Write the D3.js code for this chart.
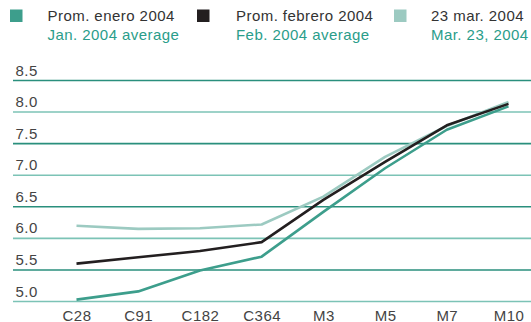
<!DOCTYPE html>
<html>
<head>
<meta charset="utf-8">
<script src="https://cdn.jsdelivr.net/npm/d3@7"></script>
<style>
  body { margin: 0; background: #fff; }
  svg { display: block; font-family: "Liberation Sans", Arial, sans-serif; }
</style>
</head>
<body>
<svg id="chart" width="531" height="322"></svg>
<script>
// データ
const categories = ['C28', 'C91', 'C182', 'C364', 'M3', 'M5', 'M7', 'M10'];
const janValues = [5.03, 5.16, 5.49, 5.71, 6.42, 7.11, 7.72, 8.09];
const febValues = [5.60, 5.70, 5.80, 5.94, 6.61, 7.21, 7.79, 8.13];
const marValues = [6.20, 6.15, 6.16, 6.22, 6.66, 7.29, 7.78, 8.16];
const yTicks = [5.0, 5.5, 6.0, 6.5, 7.0, 7.5, 8.0, 8.5];

const seriesList = [
    { es: 'Prom. enero 2004', en: 'Jan. 2004 average', values: janValues, color: '#3d9e8c' },
    { es: 'Prom. febrero 2004', en: 'Feb. 2004 average', values: febValues, color: '#231f20' },
    { es: '23 mar. 2004', en: 'Mar. 23, 2004', values: marValues, color: '#9ccac1' }
];

const svg = d3.select('#chart');
const fontSize = '15px';
const spacing = '0.45px';

const xScale = d3.scalePoint()
    .domain(categories)
    .range([76.5, 508.5]);

const yScale = d3.scaleLinear()
    .domain([5.0, 8.5])
    .range([301.5, 80.5]);

// グリッド線（濃淡交互）
const grid = svg.append('g').attr('class', 'grid');
yTicks.forEach((t, i) => {
    grid.append('line')
        .attr('x1', 13)
        .attr('x2', 531)
        .attr('y1', yScale(t))
        .attr('y2', yScale(t))
        .attr('stroke', i % 2 === 0 ? '#7cc3b6' : '#2a8f7d')
        .attr('stroke-width', 1.6);
    grid.append('text')
        .attr('x', 15.5)
        .attr('y', yScale(t) - 5)
        .style('font-size', fontSize)
        .style('letter-spacing', spacing)
        .style('fill', '#444')
        .text(d3.format('.1f')(t));
});

// X軸ラベル
const xAxis = d3.axisBottom(xScale).tickSize(0).tickPadding(0);
const xg = svg.append('g')
    .attr('transform', 'translate(0, 307)')
    .call(xAxis);
xg.select('.domain').remove();
xg.selectAll('text')
    .attr('dy', '0.9em')
    .style('font-size', fontSize)
    .style('letter-spacing', spacing)
    .style('font-family', '"Liberation Sans", Arial, sans-serif')
    .style('fill', '#444');

// ライン
const line = d3.line()
    .x((d, i) => xScale(categories[i]))
    .y(d => yScale(d));

[2, 0, 1].forEach(idx => {
    const s = seriesList[idx];
    svg.append('path')
        .datum(s.values)
        .attr('fill', 'none')
        .attr('stroke', s.color)
        .attr('stroke-width', 2.6)
        .attr('stroke-linejoin', 'round')
        .attr('d', line);
});

// 凡例
const legendX = [10, 197, 394];
const legendTextX = [47.5, 236, 431];
seriesList.forEach((s, i) => {
    svg.append('rect')
        .attr('x', legendX[i])
        .attr('y', 9.5)
        .attr('width', 12.5)
        .attr('height', 12.5)
        .attr('fill', s.color);
    svg.append('text')
        .attr('x', legendTextX[i])
        .attr('y', 21)
        .style('font-size', fontSize)
        .style('letter-spacing', spacing)
        .style('fill', '#333')
        .text(s.es);
    svg.append('text')
        .attr('x', legendTextX[i])
        .attr('y', 39.5)
        .style('font-size', fontSize)
        .style('letter-spacing', spacing)
        .style('fill', '#2a9d8a')
        .text(s.en);
});
</script>
</body>
</html>
